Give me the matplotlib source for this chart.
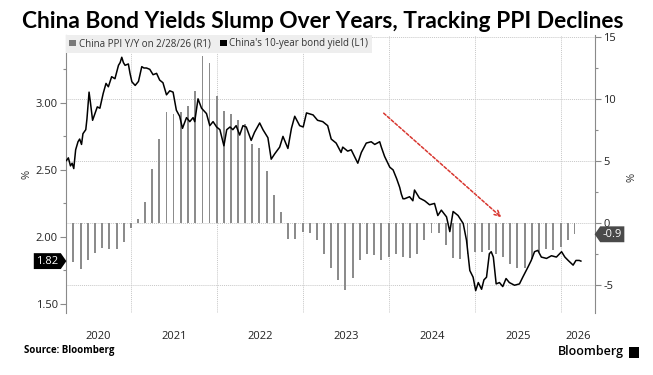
import matplotlib
matplotlib.use("Agg")
import matplotlib.pyplot as plt
import matplotlib.dates as mdates
from matplotlib.patches import Patch, Rectangle
from matplotlib.path import Path
import pandas as pd

plt.rcParams['font.family'] = ['Open Sans', 'DejaVu Sans']

# ---------------- data ----------------
yield_dates = [
    "2020-04-01", "2020-04-09", "2020-04-18", "2020-04-25", "2020-05-02", "2020-05-10",
    "2020-05-20", "2020-05-27", "2020-06-04", "2020-06-10", "2020-06-22", "2020-06-27",
    "2020-07-06", "2020-07-12", "2020-07-21", "2020-07-31", "2020-08-10", "2020-08-21",
    "2020-09-04", "2020-09-16", "2020-09-26", "2020-10-10", "2020-10-24", "2020-11-08",
    "2020-11-15", "2020-11-22", "2020-11-29", "2020-12-06", "2020-12-20", "2020-12-27",
    "2021-01-04", "2021-01-18", "2021-02-01", "2021-02-15", "2021-02-24", "2021-03-07",
    "2021-03-21", "2021-04-04", "2021-04-19", "2021-05-02", "2021-05-16", "2021-05-31",
    "2021-06-14", "2021-06-28", "2021-07-12", "2021-07-26", "2021-08-07", "2021-08-24",
    "2021-09-07", "2021-09-21", "2021-09-28", "2021-10-12", "2021-10-27", "2021-11-17",
    "2021-12-01", "2021-12-15", "2021-12-30", "2022-01-13", "2022-01-30", "2022-02-11",
    "2022-02-25", "2022-03-09", "2022-03-23", "2022-04-07", "2022-04-21", "2022-05-05",
    "2022-05-26", "2022-06-09", "2022-07-01", "2022-07-15", "2022-08-05", "2022-08-19",
    "2022-09-03", "2022-09-24", "2022-10-08", "2022-10-29", "2022-11-13", "2022-11-27",
    "2022-12-18", "2023-01-02", "2023-01-16", "2023-02-13", "2023-03-04", "2023-03-26",
    "2023-04-16", "2023-05-01", "2023-05-22", "2023-06-12", "2023-06-19", "2023-07-10",
    "2023-07-25", "2023-08-08", "2023-08-22", "2023-09-06", "2023-09-27", "2023-10-18",
    "2023-11-02", "2023-11-23", "2023-11-30", "2023-12-14", "2024-01-05", "2024-01-19",
    "2024-02-03", "2024-02-16", "2024-02-23", "2024-03-01", "2024-03-08", "2024-03-29",
    "2024-04-12", "2024-04-19", "2024-05-10", "2024-06-01", "2024-06-22", "2024-07-13",
    "2024-07-27", "2024-08-11", "2024-09-02", "2024-09-16", "2024-09-30", "2024-10-21",
    "2024-11-12", "2024-11-26", "2024-12-10", "2024-12-24", "2025-01-04", "2025-01-15",
    "2025-01-29", "2025-02-08", "2025-02-19", "2025-03-03", "2025-03-11", "2025-03-20",
    "2025-04-01", "2025-04-15", "2025-04-29", "2025-05-13", "2025-05-27", "2025-06-18",
    "2025-07-09", "2025-07-23", "2025-08-14", "2025-08-28", "2025-09-11", "2025-09-25",
    "2025-10-10", "2025-11-01", "2025-11-22", "2025-12-13", "2026-01-04", "2026-01-18",
    "2026-02-01", "2026-02-22", "2026-03-06", "2026-03-20", "2026-03-27",
]
yield_vals = [
    2.57, 2.59, 2.53, 2.55, 2.51, 2.65,
    2.71, 2.73, 2.69, 2.77, 2.80, 2.88,
    3.08, 3.00, 2.87, 2.92, 2.97, 2.96,
    3.07, 3.145, 3.12, 3.195, 3.18, 3.28,
    3.30, 3.34, 3.30, 3.28, 3.29, 3.22,
    3.157, 3.13, 3.16, 3.27, 3.26, 3.26,
    3.25, 3.21, 3.22, 3.17, 3.15, 3.06,
    3.09, 3.08, 2.945, 2.90, 2.81, 2.89,
    2.86, 2.89, 2.86, 3.03, 2.96, 2.92,
    2.83, 2.86, 2.82, 2.80, 2.68, 2.80,
    2.82, 2.80, 2.83, 2.76, 2.83, 2.82,
    2.72, 2.78, 2.85, 2.80, 2.74, 2.58,
    2.62, 2.67, 2.75, 2.66, 2.81, 2.90,
    2.83, 2.82, 2.925, 2.91, 2.87, 2.86,
    2.83, 2.73, 2.70, 2.63, 2.67, 2.64,
    2.65, 2.60, 2.55, 2.63, 2.70, 2.71,
    2.69, 2.71, 2.67, 2.60, 2.52, 2.50,
    2.435, 2.37, 2.32, 2.285, 2.285, 2.30,
    2.27, 2.35, 2.29, 2.27, 2.24, 2.25,
    2.16, 2.20, 2.15, 2.04, 2.19, 2.16,
    2.10, 1.975, 1.75, 1.70, 1.60, 1.66,
    1.61, 1.68, 1.70, 1.875, 1.89, 1.85,
    1.65, 1.66, 1.63, 1.69, 1.66, 1.64,
    1.65, 1.70, 1.775, 1.825, 1.89, 1.90,
    1.85, 1.84, 1.86, 1.85, 1.89, 1.85,
    1.825, 1.79, 1.825, 1.825, 1.82,
]

ppi_start, ppi_end = "2020-04-30", "2026-02-28"
ppi_vals = [
    -3.1, -3.7, -3.0, -2.4, -2.0, -2.1, -2.1, -1.5, -0.4,
    0.3, 1.7, 4.4, 6.8, 9.0, 8.8, 9.0, 9.5, 10.7, 13.5, 12.9, 10.3,
    9.1, 8.8, 8.3, 8.0, 6.4, 6.1, 4.2, 2.3, 0.9, -1.3, -1.3, -0.7,
    -0.8, -1.4, -2.5, -3.6, -4.6, -5.4, -4.4, -3.0, -2.5, -2.6, -3.0, -2.7,
    -2.5, -2.7, -2.8, -2.5, -1.4, -0.8, -0.8, -1.8, -2.8, -2.9, -2.5, -2.3,
    -2.3, -2.2, -2.5, -2.7, -3.3, -3.6, -3.6, -2.9, -2.3, -2.1, -2.2, -1.9,
    -1.4, -0.9,
]

years = [2020, 2021, 2022, 2023, 2024, 2025, 2026]
left_ticks = [1.50, 2.00, 2.50, 3.00]
left_minor = [1.75, 2.25, 2.75, 3.25]
right_ticks = [-5, 0, 5, 10, 15]
right_minor = [-2.5, 2.5, 7.5, 12.5]

title = "China Bond Yields Slump Over Years, Tracking PPI Declines"
legend_labels = ["China PPI Y/Y on 2/28/26 (R1)", "China's 10-year bond yield (L1)"]
source = "Source: Bloomberg"
arrow_start = ("2023-12-10", 2.923)
arrow_end = ("2025-04-23", 2.147)

# ---------------- figure ----------------
W, H = 653, 375
fig = plt.figure(figsize=(W / 100, H / 100), dpi=100)
L, R, T, B = 66, 595, 35, 313
ax_p = fig.add_axes([L / W, 1 - B / H, (R - L) / W, (B - T) / H])
ax_y = ax_p.twinx()

ax_p.yaxis.tick_right()
ax_p.yaxis.set_label_position('right')
ax_y.yaxis.tick_left()
ax_y.yaxis.set_label_position('left')

spine_c = '#8a8a8a'
for s in ['top', 'bottom', 'left']:
    ax_p.spines[s].set_visible(False)
for s in ['top', 'bottom', 'right']:
    ax_y.spines[s].set_visible(False)
ax_p.spines['right'].set_color(spine_c)
ax_y.spines['left'].set_color(spine_c)

xmin = mdates.date2num(pd.Timestamp("2020-03-30"))
xmax = mdates.date2num(pd.Timestamp("2026-05-26"))
ax_p.set_xlim(xmin, xmax)

# bars
ppi_dates = pd.date_range(ppi_start, ppi_end, freq="ME")
ax_p.bar(ppi_dates, ppi_vals, width=8, color='#8c8c8c', zorder=2, linewidth=0)
ax_p.set_ylim(-7.26, 15.2)
ax_p.set_yticks(right_ticks)
ax_p.set_yticks(right_minor, minor=True)
ax_p.set_yticklabels([str(v) for v in right_ticks])

# line
ax_y.plot(pd.to_datetime(yield_dates), yield_vals, color='black', lw=1.1, zorder=3)
ax_y.set_ylim(1.433, 3.506)
ax_y.set_yticks(left_ticks)
ax_y.set_yticks(left_minor, minor=True)
ax_y.set_yticklabels([f"{v:.2f}" for v in left_ticks])

# x ticks
year_starts = [mdates.date2num(pd.Timestamp(f"{y}-01-01")) for y in years[1:]]
mids = []
for y in years:
    a = max(mdates.date2num(pd.Timestamp(f"{y}-01-01")), xmin)
    b = min(mdates.date2num(pd.Timestamp(f"{y + 1}-01-01")), xmax)
    mids.append((a + b) / 2)
ax_p.set_xticks(year_starts)
ax_p.set_xticklabels([])
ax_p.set_xticks(mids, minor=True)
ax_p.set_xticklabels([str(y) for y in years], minor=True)
ax_p.tick_params(axis='x', which='both', length=0)
ax_p.tick_params(axis='x', which='minor', pad=13, labelsize=8, labelcolor='#222222')

for a in (ax_p, ax_y):
    a.tick_params(axis='y', which='major', length=4, width=0.8, color=spine_c,
                  labelsize=8, labelcolor='#222222', pad=2)
    a.tick_params(axis='y', which='minor', length=2.5, width=0.8, color=spine_c)

ax_p.set_axisbelow(True)
ax_p.grid(axis='x', which='major', color='#c8c8c8', linestyle=(0, (1, 1)), linewidth=0.7)
ax_p.grid(axis='y', which='major', color='#c8c8c8', linestyle=(0, (1, 1)), linewidth=0.7)

# % axis labels
fig.text(27 / W, 1 - 174 / H, "%", rotation=90, ha='center', va='center', fontsize=8, color='#333333')
fig.text(632 / W, 1 - 177 / H, "%", rotation=90, ha='center', va='center', fontsize=8, color='#333333')


def tag_right(x0, y0, width, height, mutation_size):
    pad = 0.22 * mutation_size
    x0 -= pad; y0 -= pad
    w = width + 2 * pad; h = height + 2 * pad
    tip = h * 0.35
    return Path([(x0, y0), (x0 + w, y0), (x0 + w + tip, y0 + h / 2),
                 (x0 + w, y0 + h), (x0, y0 + h), (x0, y0)], closed=True)


def tag_left(x0, y0, width, height, mutation_size):
    pad = 0.22 * mutation_size
    x0 -= pad; y0 -= pad
    w = width + 2 * pad; h = height + 2 * pad
    tip = h * 0.35
    return Path([(x0, y0), (x0 + w, y0), (x0 + w, y0 + h), (x0, y0 + h),
                 (x0 - tip, y0 + h / 2), (x0, y0)], closed=True)


ax_y.annotate(f"{yield_vals[-1]:.2f}", xy=(0, yield_vals[-1]),
              xycoords=('axes fraction', 'data'), xytext=(-5.5, 0),
              textcoords='offset points', ha='right', va='center',
              color='white', fontsize=8, annotation_clip=False,
              bbox=dict(boxstyle=tag_right, fc='black', ec='none'))
ax_p.annotate(f"{ppi_vals[-1]:.1f}", xy=(1, ppi_vals[-1]),
              xycoords=('axes fraction', 'data'), xytext=(5.5, 0),
              textcoords='offset points', ha='left', va='center',
              color='white', fontsize=8, annotation_clip=False,
              bbox=dict(boxstyle=tag_left, fc='#4a4a4a', ec='none'))

# red trend arrow
ax_y.annotate("", xy=(pd.Timestamp(arrow_end[0]), arrow_end[1]),
              xytext=(pd.Timestamp(arrow_start[0]), arrow_start[1]),
              arrowprops=dict(arrowstyle='->', color='#d8362f', lw=1.1,
                              linestyle=(0, (2, 1.3)), mutation_scale=10,
                              shrinkA=0, shrinkB=0))

# legend
handles = [Patch(facecolor='#7a7a7a', edgecolor='none'), Patch(facecolor='black', edgecolor='none')]
leg = ax_y.legend(handles, legend_labels, loc='upper left', bbox_to_anchor=(0.0, 1.0),
                  ncol=2, fontsize=7, frameon=True, fancybox=False, borderaxespad=0,
                  handlelength=0.7, handleheight=0.7, handletextpad=0.25, columnspacing=1.0,
                  borderpad=0.35, labelcolor='#333333')
leg.get_frame().set_facecolor('#eeeeee')
leg.get_frame().set_edgecolor('none')
leg.get_frame().set_alpha(1)

# title
t = fig.text(22 / W, 1 - 22 / H, title, fontsize=14, fontweight='bold',
             family=['Lato', 'DejaVu Sans'], ha='left', va='center', color='black')
fig.canvas.draw()
tw = t.get_window_extent().width
t.set_fontsize(14 * 608 / tw)

# footer
fig.text(24 / W, 1 - 351 / H, source, fontsize=7, fontweight='bold', ha='left', va='center', color='black')
fig.text(624 / W, 1 - 352 / H, "Bloomberg", fontsize=9, fontweight='semibold', ha='right', va='center', color='black')
fig.add_artist(Rectangle((629 / W, 1 - 358 / H), 10 / W, 11 / H, transform=fig.transFigure,
                         facecolor='black', edgecolor='none'))

fig.savefig("out.png", dpi=100)
